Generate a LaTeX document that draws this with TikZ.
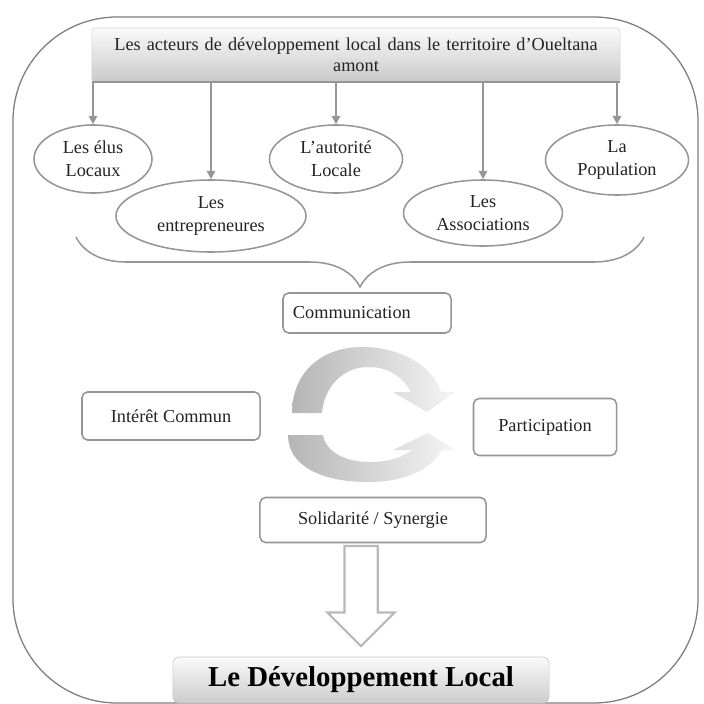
\documentclass[tikz,border=0pt]{standalone}
\usepackage{fontspec}
\setmainfont{Liberation Serif}
\usetikzlibrary{positioning,arrows.meta,shapes.geometric,shapes.arrows,decorations.pathreplacing,calc}
\definecolor{G1}{RGB}{150,150,150}
\definecolor{G2}{RGB}{125,125,125}
\definecolor{T1}{RGB}{35,35,35}

\begin{document}
\begin{tikzpicture}[
  x=0.025cm, y=-0.025cm,
  cadre/.style = {draw=G2, line width=0.9pt, rounded corners=2.6cm},
  titrebox/.style = {
    rectangle, rounded corners=2pt,
    draw=gray!35, top color=gray!4, bottom color=gray!42,
    align=center, text width=12.6cm, minimum width=13.2cm, minimum height=1.35cm,
    font=\fontsize{13}{15}\selectfont, text=T1
  },
  acteur/.style = {
    ellipse, draw=G1, line width=1.1pt, fill=white,
    align=center, inner sep=0pt,
    font=\fontsize{13}{16.5}\selectfont, text=T1
  },
  valeur/.style = {
    rectangle, rounded corners=4pt,
    draw=G1, line width=1.1pt, fill=white,
    align=center, font=\fontsize{13}{16}\selectfont, text=T1
  },
  finbox/.style = {
    rectangle, rounded corners=4pt,
    draw=gray!45, top color=gray!4, bottom color=gray!40,
    minimum width=9.4cm, minimum height=1.15cm,
    font=\fontsize{20.5}{24}\selectfont\bfseries, text=black
  },
  fl/.style = {-{Triangle[length=6pt,width=6pt]}, line width=1.4pt, G1},
  barre/.style = {line width=1.4pt, G1},
  accolade/.style = {decorate, decoration={brace, mirror, amplitude=1.25cm},
    line width=1.1pt, G1},
  cycle/.style = {left color=gray!58, right color=gray!8, draw=none},
  creuse/.style = {single arrow, draw=gray!55, line width=1.6pt, fill=white,
    rotate=-90, minimum height=2.5cm,
    single arrow head extend=0.425cm, inner xsep=0pt, inner ysep=0.3875cm}
]

\useasboundingbox (0,0) rectangle (704,704);

%% ---------- Cadre ----------
\draw[cadre] (13,17) rectangle (698,703);

%% ---------- Acteurs ----------
\node[titrebox] (titre) at (356,55)
    {Les acteurs de développement local dans le territoire d'Oueltana\\amont};

\node[acteur, minimum width=2.95cm, minimum height=1.7cm] (elus) at (93,159)
    {Les élus\\Locaux};
\node[acteur, minimum width=4.75cm, minimum height=1.8cm] (entre) at (211,216)
    {Les\\entrepreneures};
\node[acteur, minimum width=3.325cm, minimum height=1.7cm] (auto) at (336,159)
    {L'autorité\\Locale};
\node[acteur, minimum width=3.975cm, minimum height=1.65cm] (assoc) at (483,213)
    {Les\\Associations};
\node[acteur, minimum width=3.575cm, minimum height=1.75cm] (popu) at (617,160)
    {La\\Population};

\draw[barre] (titre.south west) -- (titre.south east);
\foreach \a in {elus,entre,auto,assoc,popu}
  \draw[fl] (\a |- titre.south) -- (\a.north);

%% ---------- Accolade ----------
\coordinate (accg) at (76,237);
\coordinate (accd) at (644,237);
\draw[accolade] (accg) -- (accd);

%% ---------- Valeurs ----------
\node[valeur, text width=3.7cm, align=left, inner xsep=0.25cm,
      minimum height=1cm] (comm) at (367,313) {Communication};
\node[valeur, minimum width=4.45cm, minimum height=1.2cm] (inter) at (171,416)
    {Intérêt Commun};
\node[valeur, minimum width=3.575cm, minimum height=1.425cm] (partic) at (545,427)
    {Participation};
\node[valeur, minimum width=5.65cm, minimum height=1.125cm] (solid) at (373,520)
    {Solidarité / Synergie};

% fleches circulaires
\path[cycle] (292,413) .. controls (292,372) and (322,347) .. (362,347)
    .. controls (400,347) and (432,365) .. (441,392) -- (455,392) -- (427,412)
    -- (393,392) -- (411,392) .. controls (402,376) and (388,367) .. (368,367)
    .. controls (342,367) and (324,388) .. (322,413) -- cycle;
\path[cycle] (288,435) -- (323,435) .. controls (326,452) and (345,462) .. (370,462)
    .. controls (390,462) and (405,456) .. (412,450) -- (393,450) -- (428,433)
    -- (455,450) -- (442,450) .. controls (430,470) and (405,482) .. (368,482)
    .. controls (320,482) and (288,465) .. (288,435) -- cycle;

%% ---------- Resultat ----------
\node[finbox] (dev) at (361,680) {Le Développement Local};
\node[creuse, anchor=tip] (fleche) at ($(dev.north)+(0,-9)$) {};

\end{tikzpicture}
\end{document}
